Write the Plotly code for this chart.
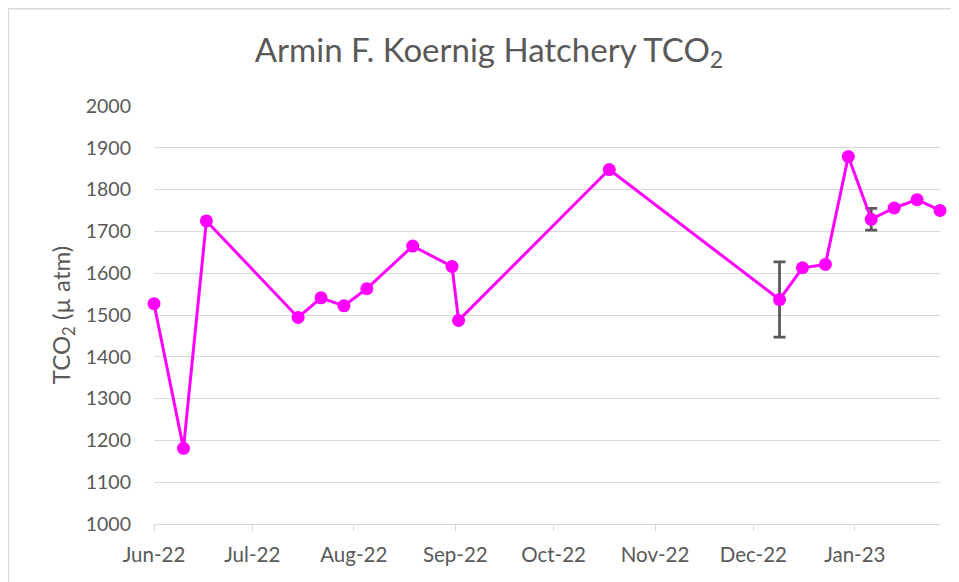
import plotly.graph_objects as go

dates = ["2022-06-01", "2022-06-10", "2022-06-17", "2022-07-15", "2022-07-22",
         "2022-07-29", "2022-08-05", "2022-08-19", "2022-08-31", "2022-09-02",
         "2022-10-18", "2022-12-09", "2022-12-16", "2022-12-23", "2022-12-30",
         "2023-01-06", "2023-01-13", "2023-01-20", "2023-01-27"]
tco2 = [1527, 1181, 1725, 1494, 1541, 1522, 1563, 1665, 1616, 1487,
        1848, 1537, 1613, 1621, 1879, 1729, 1756, 1776, 1750]
err = [0, 0, 0, 0, 0, 0, 0, 0, 0, 0,
       0, 90, 0, 0, 0, 26, 0, 0, 0]
tick_vals = ["2022-06-01", "2022-07-01", "2022-08-01", "2022-09-01", "2022-10-01",
             "2022-11-01", "2022-12-01", "2023-01-01"]
tick_text = ["Jun-22", "Jul-22", "Aug-22", "Sep-22", "Oct-22", "Nov-22", "Dec-22", "Jan-23"]

font = "Lato, 'Open Sans', sans-serif"
grey = "#595959"

fig = go.Figure()
fig.add_trace(go.Scatter(
    x=dates, y=tco2, mode="lines+markers",
    line=dict(color="#FF00FF", width=3),
    marker=dict(color="#FF00FF", size=13),
    error_y=dict(type="data", array=err, visible=True, color=grey, thickness=2.8, width=6),
    cliponaxis=False,
    showlegend=False,
))

fig.update_layout(
    width=951, height=574,
    margin=dict(l=146, r=19, t=98, b=58),
    paper_bgcolor="white", plot_bgcolor="white",
    title=dict(text="Armin F. Koernig Hatchery TCO<sub>2</sub>", x=0.5058, xanchor="center",
               y=0.9268, yanchor="middle",
               font=dict(family=font, size=33, color=grey)),
    font=dict(family=font, color=grey),
    xaxis=dict(
        type="date", range=["2022-06-01", "2023-01-27"],
        tickvals=tick_vals, ticktext=tick_text,
        showgrid=False, showline=True, linecolor="#d9d9d9", linewidth=1,
        ticks="outside", ticklen=6, tickcolor="#d9d9d9",
        ticklabelstandoff=6,
        tickfont=dict(family=font, size=20.5, color=grey),
        zeroline=False,
    ),
    yaxis=dict(
        range=[1000, 2000], dtick=100, tick0=1000,
        showgrid=True, gridcolor="#d9d9d9", gridwidth=1,
        showline=False, zeroline=False, ticks="",
        ticklabelstandoff=22,
        tickfont=dict(family=font, size=19.5, color=grey),
        title=dict(text="TCO<sub>2</sub> (µ atm)", standoff=8,
                   font=dict(family=font, size=24, color=grey)),
    ),
    shapes=[
        dict(type="line", xref="paper", yref="paper", x0=-0.1854, x1=1.2, y0=1.2324, y1=1.2324,
             line=dict(color="#d9d9d9", width=1.5)),
        dict(type="line", xref="paper", yref="paper", x0=-0.1854, x1=-0.1854, y0=1.2324, y1=-0.3,
             line=dict(color="#d9d9d9", width=1.5)),
    ],
)

fig.write_html("out.html", config={"displayModeBar": False})
